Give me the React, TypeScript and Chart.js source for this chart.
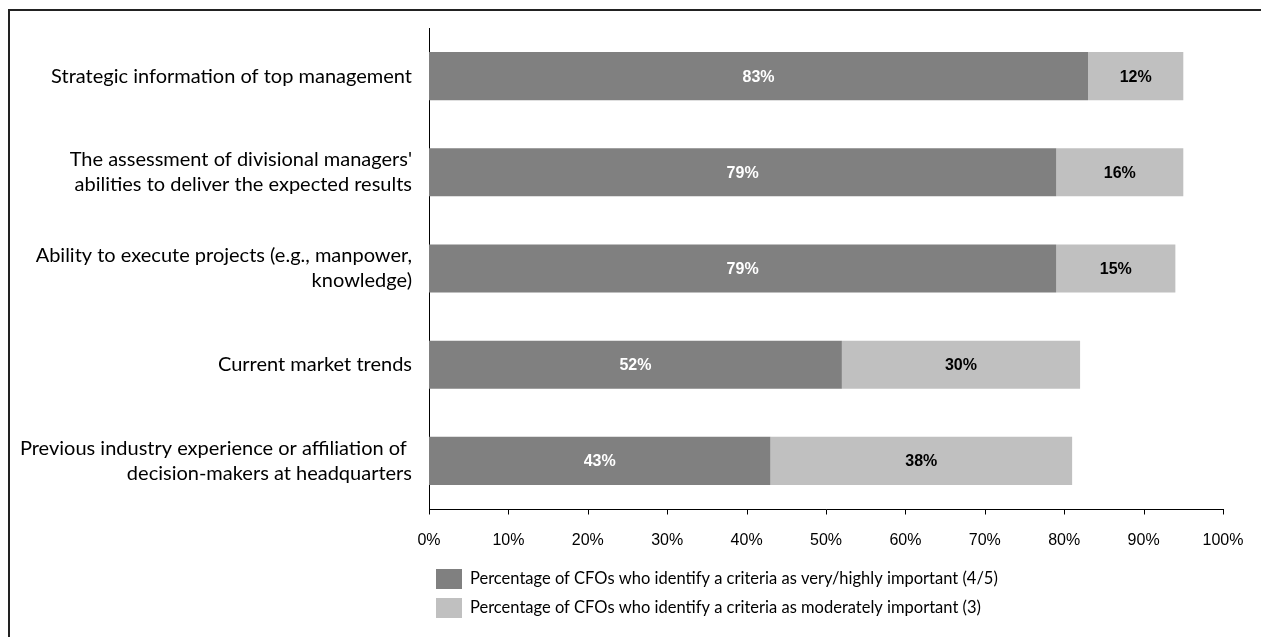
import React, { useEffect, useRef } from "react";
import { Chart, registerables } from "chart.js";

Chart.register(...registerables);

const categories: (string | string[])[] = [
  "Strategic information of top management",
  ["The assessment of divisional managers'", "abilities to deliver the expected results"],
  ["Ability to execute projects (e.g., manpower,", "knowledge)"],
  "Current market trends",
  ["Previous industry experience or affiliation of ", "decision-makers at headquarters"],
];

const highlyImportant = [83, 79, 79, 52, 43];
const moderatelyImportant = [12, 16, 15, 30, 38];

const seriesLabels = [
  "Percentage of CFOs who identify a criteria as very/highly important (4/5)",
  "Percentage of CFOs who identify a criteria as moderately important (3)",
];

const xMin = 0;
const xMax = 100;
const xStep = 10;

const DARK = "#808080";
const LIGHT = "#C0C0C0";
const LABEL_FONT = "Lato, 'Liberation Sans', sans-serif";
const NUM_FONT = "'Liberation Sans', Arial, sans-serif";

const framePlugin = {
  id: "frame",
  beforeDraw(chart: any) {
    const ctx = chart.ctx;
    ctx.save();
    ctx.fillStyle = "#ffffff";
    ctx.fillRect(0, 0, chart.width, chart.height);
    ctx.strokeStyle = "#222222";
    ctx.lineWidth = 2;
    ctx.beginPath();
    ctx.moveTo(9, chart.height);
    ctx.lineTo(9, 10);
    ctx.lineTo(chart.width, 10);
    ctx.stroke();
    ctx.restore();
  },
};

const xAxisLinePlugin = {
  id: "xAxisLine",
  afterDraw(chart: any) {
    const ctx = chart.ctx;
    const xs = chart.scales.x;
    const area = chart.chartArea;
    const y = Math.round(area.bottom) + 0.5;
    ctx.save();
    ctx.strokeStyle = "#000000";
    ctx.lineWidth = 1;
    ctx.beginPath();
    ctx.moveTo(area.left, y);
    ctx.lineTo(area.right + 1, y);
    xs.ticks.forEach((t: any) => {
      const px = Math.round(xs.getPixelForValue(t.value)) + 0.5;
      ctx.moveTo(px, y);
      ctx.lineTo(px, y + 5);
    });
    ctx.stroke();
    ctx.restore();
  },
};

const valueLabelPlugin = {
  id: "valueLabels",
  afterDatasetsDraw(chart: any) {
    const ctx = chart.ctx;
    ctx.save();
    ctx.font = `bold 16px ${NUM_FONT}`;
    ctx.textAlign = "center";
    ctx.textBaseline = "middle";
    chart.data.datasets.forEach((ds: any, di: number) => {
      const meta = chart.getDatasetMeta(di);
      ctx.fillStyle = di === 0 ? "#ffffff" : "#000000";
      meta.data.forEach((el: any, i: number) => {
        const x = (el.x + el.base) / 2;
        ctx.fillText(`${ds.data[i]}%`, x, el.y + 1);
      });
    });
    ctx.restore();
  },
};

const legendPlugin = {
  id: "customLegend",
  afterDraw(chart: any) {
    const ctx = chart.ctx;
    ctx.save();
    ctx.font = `16.5px ${LABEL_FONT}`;
    ctx.textAlign = "left";
    ctx.textBaseline = "middle";
    chart.data.datasets.forEach((ds: any, di: number) => {
      const top = 569 + di * 29;
      ctx.fillStyle = ds.backgroundColor;
      ctx.fillRect(436, top, 26, 20);
      ctx.fillStyle = "#000000";
      ctx.fillText(ds.label, 470, top + 10);
    });
    ctx.restore();
  },
};

export default function App() {
  const canvasRef = useRef<HTMLCanvasElement | null>(null);

  useEffect(() => {
    if (!canvasRef.current) return;
    const chart = new Chart(canvasRef.current, {
      type: "bar",
      data: {
        labels: categories,
        datasets: [
          {
            label: seriesLabels[0],
            data: highlyImportant,
            backgroundColor: DARK,
            borderWidth: 0,
            categoryPercentage: 1,
            barPercentage: 0.5,
          },
          {
            label: seriesLabels[1],
            data: moderatelyImportant,
            backgroundColor: LIGHT,
            borderWidth: 0,
            categoryPercentage: 1,
            barPercentage: 0.5,
          },
        ],
      },
      options: {
        indexAxis: "y",
        responsive: false,
        animation: false,
        layout: { padding: { left: 0, top: 28, right: 38, bottom: 88 } },
        plugins: {
          legend: { display: false },
          tooltip: { enabled: false },
        },
        scales: {
          x: {
            stacked: true,
            min: xMin,
            max: xMax,
            ticks: {
              stepSize: xStep,
              callback: (v: any) => `${v}%`,
              color: "#000000",
              font: { family: NUM_FONT, size: 16 },
              padding: 22,
              maxRotation: 0,
            },
            grid: {
              display: false,
              drawOnChartArea: false,
              drawTicks: false,
              tickLength: 5,
            },
            border: { display: false },
            afterFit: (scale: any) => {
              scale.height = 40;
              scale.paddingLeft = 0;
              scale.paddingRight = 0;
              scale.paddingTop = 0;
              scale.paddingBottom = 0;
            },
          },
          y: {
            stacked: true,
            ticks: {
              color: "#000000",
              font: { family: LABEL_FONT, size: 20, lineHeight: "25px" },
              padding: 17,
            },
            grid: { drawOnChartArea: false, drawTicks: false },
            border: { display: true, color: "#000000", width: 1 },
            afterFit: (scale: any) => {
              scale.width = 429;
              scale.paddingTop = 0;
              scale.paddingBottom = 0;
              scale.paddingLeft = 0;
              scale.paddingRight = 0;
            },
          },
        },
      },
      plugins: [framePlugin, valueLabelPlugin, xAxisLinePlugin, legendPlugin],
    } as any);
    return () => chart.destroy();
  }, []);

  return (
    <div style={{ position: "absolute", left: 0, top: 0, width: 1261, height: 637 }}>
      <canvas ref={canvasRef} width={1261} height={637} style={{ display: "block" }} />
    </div>
  );
}
